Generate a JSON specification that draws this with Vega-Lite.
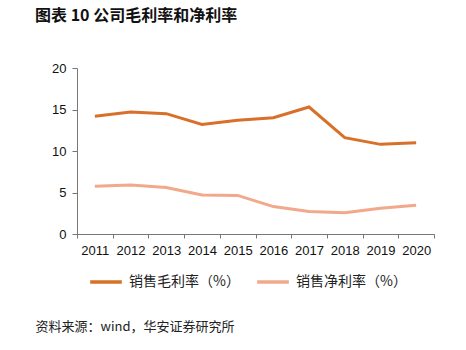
{
  "$schema": "https://vega.github.io/schema/vega-lite/v6.json",
  "width": 357,
  "height": 166,
  "autosize": "none",
  "padding": {"left": 77, "top": 68, "right": 32, "bottom": 116},
  "background": "white",
  "title": {
    "text": "图表 10  公司毛利率和净利率",
    "anchor": "start",
    "frame": "group",
    "dx": -42,
    "offset": 38,
    "font": "Noto Sans CJK SC",
    "fontSize": 16,
    "fontWeight": "bold",
    "color": "#111111"
  },
  "data": {
    "values": [
      {"year": "2011", "series": "销售毛利率（%）", "value": 14.2},
      {"year": "2012", "series": "销售毛利率（%）", "value": 14.7},
      {"year": "2013", "series": "销售毛利率（%）", "value": 14.5},
      {"year": "2014", "series": "销售毛利率（%）", "value": 13.2},
      {"year": "2015", "series": "销售毛利率（%）", "value": 13.7},
      {"year": "2016", "series": "销售毛利率（%）", "value": 14.0},
      {"year": "2017", "series": "销售毛利率（%）", "value": 15.3},
      {"year": "2018", "series": "销售毛利率（%）", "value": 11.6},
      {"year": "2019", "series": "销售毛利率（%）", "value": 10.8},
      {"year": "2020", "series": "销售毛利率（%）", "value": 11.0},
      {"year": "2011", "series": "销售净利率（%）", "value": 5.75},
      {"year": "2012", "series": "销售净利率（%）", "value": 5.9},
      {"year": "2013", "series": "销售净利率（%）", "value": 5.6},
      {"year": "2014", "series": "销售净利率（%）", "value": 4.7},
      {"year": "2015", "series": "销售净利率（%）", "value": 4.65},
      {"year": "2016", "series": "销售净利率（%）", "value": 3.3},
      {"year": "2017", "series": "销售净利率（%）", "value": 2.7},
      {"year": "2018", "series": "销售净利率（%）", "value": 2.55},
      {"year": "2019", "series": "销售净利率（%）", "value": 3.1},
      {"year": "2020", "series": "销售净利率（%）", "value": 3.45}
    ]
  },
  "mark": {"type": "line", "strokeWidth": 3},
  "encoding": {
    "x": {
      "field": "year",
      "type": "ordinal",
      "scale": {"type": "band", "paddingInner": 0, "paddingOuter": 0},
      "axis": {
        "labelAngle": 0,
        "labelFont": "Liberation Sans",
        "labelFontSize": 13,
        "labelColor": "#111111",
        "labelPadding": 6,
        "domainColor": "#777777",
        "tickColor": "#777777",
        "tickBand": "extent",
        "tickSize": 4,
        "title": "资料来源：wind，华安证券研究所",
        "titleFont": "Noto Sans CJK SC",
        "titleFontSize": 13,
        "titleFontWeight": "normal",
        "titleColor": "#222222",
        "titleAlign": "left",
        "titleBaseline": "middle",
        "titleAnchor": "start",
        "titleX": -42,
        "titleY": 92
      }
    },
    "y": {
      "field": "value",
      "type": "quantitative",
      "scale": {"domain": [0, 20]},
      "axis": {
        "values": [0, 5, 10, 15, 20],
        "grid": false,
        "title": null,
        "labelFont": "Liberation Sans",
        "labelFontSize": 13,
        "labelColor": "#111111",
        "labelPadding": 6,
        "domainColor": "#777777",
        "tickColor": "#777777",
        "tickSize": 5
      }
    },
    "color": {
      "field": "series",
      "type": "nominal",
      "scale": {"domain": ["销售毛利率（%）", "销售净利率（%）"], "range": ["#D8702A", "#F2A88A"]},
      "legend": {
        "title": null,
        "orient": "none",
        "legendX": 11,
        "legendY": 196,
        "direction": "horizontal",
        "columns": 2,
        "columnPadding": 10,
        "symbolType": "stroke",
        "symbolSize": 1000,
        "symbolStrokeWidth": 3.5,
        "labelFont": "Noto Sans CJK SC",
        "labelFontSize": 14,
        "labelColor": "#222222",
        "labelOffset": 5
      }
    }
  },
  "config": {"view": {"stroke": null}}
}
